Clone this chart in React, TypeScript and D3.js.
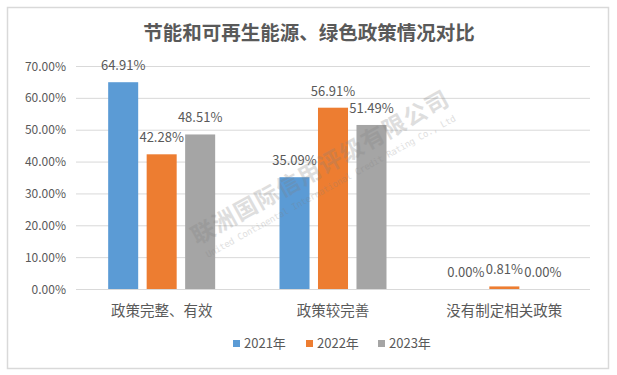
import * as d3 from "d3";

const categories = ["政策完整、有效", "政策较完善", "没有制定相关政策"];
const seriesNames = ["2021年", "2022年", "2023年"];
const values2021 = [64.91, 35.09, 0.0];
const values2022 = [42.28, 56.91, 0.81];
const values2023 = [48.51, 51.49, 0.0];
const yTicks = [0, 10, 20, 30, 40, 50, 60, 70];
const colors = ["#5B9BD5", "#ED7D31", "#A5A5A5"];

const W = 617;
const H = 375;
const font = "'Noto Sans CJK SC', 'Noto Sans', sans-serif";
const textColor = "#595959";

export default function App() {
  const series = [values2021, values2022, values2023];

  const x = d3.scaleBand().domain(categories).range([76, 590]).paddingInner(0).paddingOuter(0);
  const y = d3.scaleLinear().domain([0, 70]).range([289, 66]);
  const groupW = 107;
  const xs = d3
    .scaleBand()
    .domain(seriesNames)
    .range([0, groupW])
    .paddingInner(0.22)
    .paddingOuter(0);

  const legendX = [233, 306, 378];

  return (
    <svg
      width={W}
      height={H}
      style={{ position: "absolute", left: 0, top: 0, fontFamily: font }}
    >
      <rect x={0} y={0} width={W} height={H} fill="#fff" />
      <rect x={7.5} y={7.5} width={601} height={361} fill="#fff" stroke="#D9D9D9" strokeWidth={1.5} />

      <text x={309} y={40} textAnchor="middle" fontSize={19.5} fontWeight="bold" fill={textColor}>
        节能和可再生能源、绿色政策情况对比
      </text>

      {yTicks.map((t) => (
        <g key={t}>
          <line x1={76} x2={590} y1={y(t) + 0.5} y2={y(t) + 0.5} stroke="#D9D9D9" strokeWidth={1} />
          <text x={66} y={y(t) + 4.5} textAnchor="end" fontSize={12} fill={textColor}>
            {t.toFixed(2)}%
          </text>
        </g>
      ))}

      {categories.map((c, ci) => {
        const gx = (x(c) as number) + x.bandwidth() / 2 - groupW / 2;
        return (
          <g key={c}>
            {series.map((vals, si) => {
              const bx = gx + (xs(seriesNames[si]) as number);
              const v = vals[ci];
              return (
                <g key={si}>
                  <rect
                    x={bx}
                    y={y(v)}
                    width={xs.bandwidth()}
                    height={y(0) - y(v)}
                    fill={colors[si]}
                  />
                  <text
                    x={bx + xs.bandwidth() / 2}
                    y={y(v) - 12}
                    textAnchor="middle"
                    fontSize={13}
                    fill={textColor}
                  >
                    {v.toFixed(2)}%
                  </text>
                </g>
              );
            })}
            <text
              x={(x(c) as number) + x.bandwidth() / 2}
              y={316}
              textAnchor="middle"
              fontSize={14.5}
              fill={textColor}
            >
              {c}
            </text>
          </g>
        );
      })}

      {/* watermark, drawn over the bars */}
      <g opacity={0.25} fill="#7f7f7f">
        <text
          transform="translate(197,245) rotate(-29)"
          fontSize={23}
          fontWeight="bold"
          textLength={290}
        >
          联洲国际信用评级有限公司
        </text>
        <text
          transform="translate(208,258) rotate(-29)"
          fontSize={9}
          fontFamily="'DejaVu Sans Mono', monospace"
          textLength={284}
        >
          United Continental International Credit Rating Co., Ltd
        </text>
      </g>

      {seriesNames.map((s, i) => (
        <g key={s}>
          <rect x={legendX[i]} y={340} width={7} height={7} fill={colors[i]} />
          <text x={legendX[i] + 11} y={348} fontSize={13} fill={textColor}>
            {s}
          </text>
        </g>
      ))}
    </svg>
  );
}
